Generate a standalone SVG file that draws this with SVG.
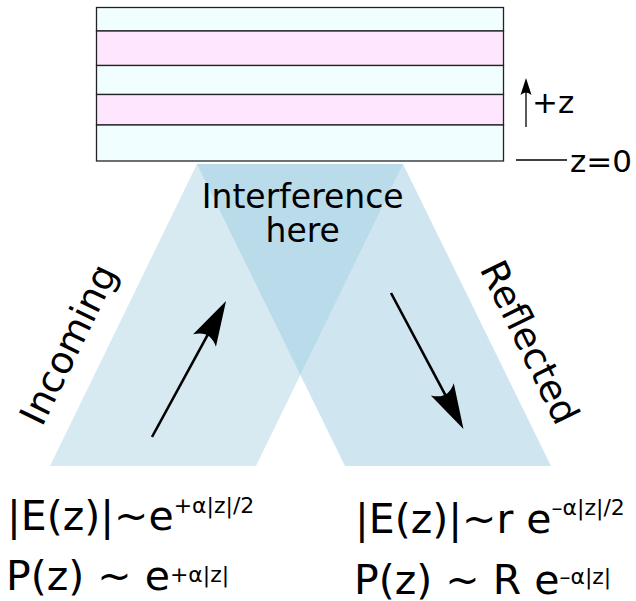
<svg xmlns="http://www.w3.org/2000/svg" width="636" height="601" viewBox="0 0 636 601">
<style>
text{font-family:"DejaVu Sans","Liberation Sans",sans-serif;fill:#000}
.cy{fill:#f0feff;stroke:#222;stroke-width:1.3}
.pk{fill:#ffe6ff;stroke:#222;stroke-width:1.3}
.beam{fill:#9acbdf}
.arr{stroke:#000;stroke-width:2.6;fill:none}
.thin{stroke:#000;stroke-width:1.3;fill:none}
.big{font-size:41px}
.sup{font-size:22px}
.side{font-size:37.5px}
</style>
<defs>
<marker id="head" markerUnits="userSpaceOnUse" orient="auto" markerWidth="60" markerHeight="40" viewBox="-15 -20 60 40" refX="0" refY="0">
<path d="M35,0 L-10,-13 Q2,0 -10,13 Z" fill="#000"/>
</marker>
</defs>
<g id="stack">
<rect class="cy" x="96.5" y="7.5" width="407" height="23.5"/>
<rect class="pk" x="96.5" y="31" width="407" height="34.5"/>
<rect class="cy" x="96.5" y="65.5" width="407" height="29"/>
<rect class="pk" x="96.5" y="94.5" width="407" height="30.5"/>
<rect class="cy" x="96.5" y="125" width="407" height="36"/>
</g>
<g id="incoming-beam">
<polygon class="beam" fill-opacity="0.4" points="50,466 256,466 403,164 197,164"/>
</g>
<g id="reflected-beam">
<polygon class="beam" fill-opacity="0.48" points="197,164 403,164 551,466 345,466"/>
</g>
<g id="axis">
<line class="thin" x1="526" y1="127" x2="526" y2="90"/>
<path d="M526,78 L520.5,95 Q526,90 531.5,95 Z" fill="#000"/>
<text x="532" y="113" font-size="31">+z</text>
<line class="thin" x1="516" y1="160" x2="567" y2="160"/>
<text x="570" y="172" font-size="31">z=0</text>
</g>
<g id="interference-label">
<text x="302.7" y="208" font-size="33" text-anchor="middle">Interference</text>
<text x="302.7" y="242" font-size="33" text-anchor="middle">here</text>
</g>
<g id="incoming-label">
<text class="side" transform="translate(80,350) rotate(-64)" text-anchor="middle">Incoming</text>
</g>
<g id="reflected-label">
<text class="side" transform="translate(518,348) rotate(64)" text-anchor="middle">Reflected</text>
</g>
<g id="connectors">
<line class="arr" x1="152" y1="437" x2="209.3" y2="331.8" marker-end="url(#head)"/>
<line class="arr" x1="391" y1="293" x2="447" y2="398.1" marker-end="url(#head)"/>
</g>
<g id="incoming-formula">
<text class="big" x="7" y="530">|E(z)|~e<tspan class="sup" y="513">+α|z|/2</tspan></text>
<text class="big" x="6" y="590">P(z) ~ e<tspan class="sup" y="582">+α|z|</tspan></text>
</g>
<g id="reflected-formula">
<text class="big" x="355" y="533">|E(z)|~r e<tspan class="sup" y="515">–α|z|/2</tspan></text>
<text class="big" x="354" y="594">P(z) ~ R e<tspan class="sup" y="584">–α|z|</tspan></text>
</g>
</svg>
